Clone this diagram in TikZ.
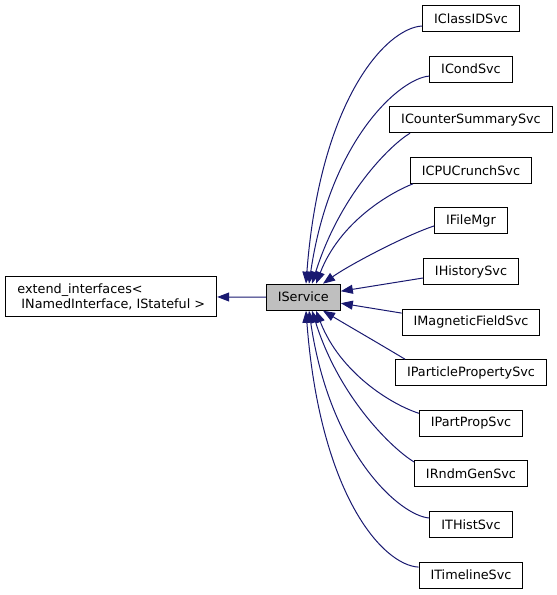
\documentclass[tikz,border=0pt]{standalone}
\usepackage{fontspec}
\setmainfont{DejaVu Sans}
\usetikzlibrary{arrows.meta}
\definecolor{edgeblue}{HTML}{191970}
\definecolor{basegray}{HTML}{BFBFBF}
\begin{document}
\begin{tikzpicture}[
        x=1pt, y=-1pt,
        every node/.style={draw, rectangle, line width=1pt, minimum height=26pt, inner xsep=11.5pt, inner ysep=0pt, font=\fontsize{12.8}{15.5}\selectfont},
        inherit/.style={draw=edgeblue, line width=1pt, -{Triangle[length=12pt,width=9pt]}},
    ]
        \useasboundingbox (0,0) rectangle (557,595);

        % Define Base Nodes
        \node[align=left, minimum height=40pt] (extend) at (111.3, 296.7) {extend\_interfaces<\\\ INamedInterface, IStateful >};
        \node[fill=basegray] (IService) at (303.3, 297.2) {IService};

        % Define Derived Service Nodes (one column right of IService)
        \node (IClassIDSvc) at (471, 18.5) {IClassIDSvc};
        \node (ICondSvc) at (471, 69.1) {ICondSvc};
        \node (ICounterSummarySvc) at (471, 119.7) {ICounterSummarySvc};
        \node (ICPUCrunchSvc) at (471, 170.3) {ICPUCrunchSvc};
        \node (IFileMgr) at (471, 220.9) {IFileMgr};
        \node (IHistorySvc) at (471, 271.5) {IHistorySvc};
        \node (IMagneticFieldSvc) at (471, 322.1) {IMagneticFieldSvc};
        \node (IParticlePropertySvc) at (471, 372.7) {IParticlePropertySvc};
        \node (IPartPropSvc) at (471, 423.3) {IPartPropSvc};
        \node (IRndmGenSvc) at (471, 473.9) {IRndmGenSvc};
        \node (ITHistSvc) at (471, 524.5) {ITHistSvc};
        \node (ITimelineSvc) at (471, 575.1) {ITimelineSvc};

        % Draw Edges (IService -> Base)
        \draw[inherit] (IService) -- (extend);

        % Draw Edges (Derived -> IService), upper half
        \draw[inherit] ([yshift=-7.5pt]IClassIDSvc.west) .. controls +(-36,2) and +(14,-184) .. ([xshift=2.7pt]IService.north);
        \draw[inherit] ([yshift=-7pt]ICondSvc.west) .. controls +(-29,2) and +(21,-144) .. ([xshift=5.7pt]IService.north);
        \draw[inherit] ([xshift=-61pt]ICounterSummarySvc.south) .. controls +(-20,12) and +(28,-89) .. ([xshift=8.7pt]IService.north);
        \draw[inherit] ([xshift=-58pt]ICPUCrunchSvc.south) .. controls +(-23,9) and +(24,-62) .. ([xshift=12.7pt]IService.north);
        \draw[inherit] ([yshift=-5pt]IFileMgr.west) .. controls +(-30,10) and +(25,-18) .. ([xshift=19.7pt]IService.north);
        \draw[inherit] ([yshift=-6.5pt]IHistorySvc.west) -- ([yshift=6pt]IService.east);

        % Draw Edges (Derived -> IService), lower half
        \draw[inherit] ([yshift=9pt]IMagneticFieldSvc.west) -- ([yshift=-6pt]IService.east);
        \draw[inherit] ([xshift=-66pt]IParticlePropertySvc.north) .. controls +(-30,-18) and +(25,15) .. ([xshift=19.7pt]IService.south);
        \draw[inherit] ([yshift=10pt]IPartPropSvc.west) .. controls +(-28,-9) and +(24,62) .. ([xshift=12.7pt]IService.south);
        \draw[inherit] ([yshift=12pt]IRndmGenSvc.west) .. controls +(-20,-12) and +(28,89) .. ([xshift=8.7pt]IService.south);
        \draw[inherit] ([yshift=6.5pt]ITHistSvc.west) .. controls +(-29,-2) and +(21,144) .. ([xshift=5.7pt]IService.south);
        \draw[inherit] ([yshift=8pt]ITimelineSvc.west) .. controls +(-36,-2) and +(14,184) .. ([xshift=2.7pt]IService.south);
    \end{tikzpicture}
\end{document}
